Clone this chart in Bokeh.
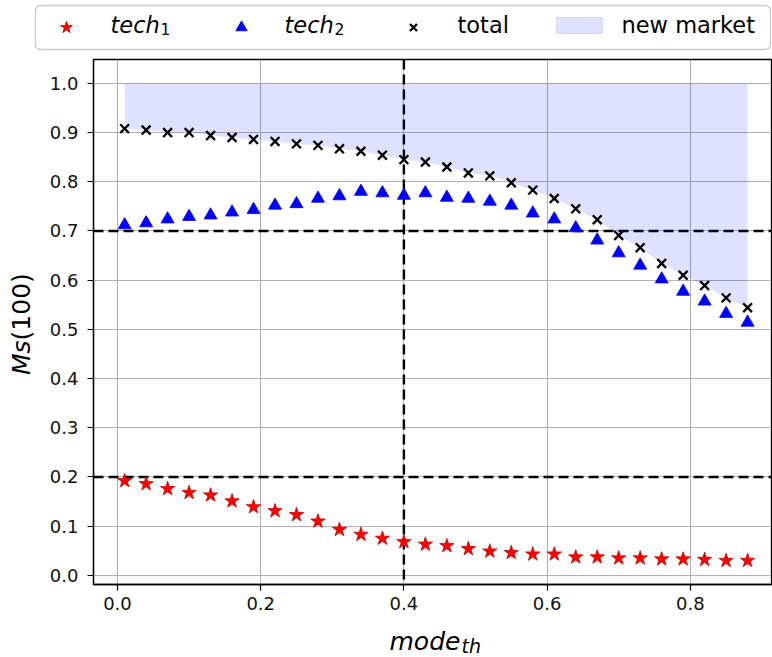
import math
from bokeh.plotting import figure
from bokeh.models import Range1d, FixedTicker, PrintfTickFormatter, Span
from bokeh.layouts import column, row
from bokeh.core.properties import value
from bokeh.embed import file_html
from bokeh.resources import INLINE

# ---- data ----
mode_th = [0.01, 0.04, 0.07, 0.10, 0.13, 0.16, 0.19, 0.22, 0.25, 0.28,
           0.31, 0.34, 0.37, 0.40, 0.43, 0.46, 0.49, 0.52, 0.55, 0.58,
           0.61, 0.64, 0.67, 0.70, 0.73, 0.76, 0.79, 0.82, 0.85, 0.88]
tech1 = [0.192, 0.186, 0.176, 0.168, 0.163, 0.151, 0.139, 0.131, 0.123, 0.110,
         0.093, 0.083, 0.075, 0.068, 0.063, 0.060, 0.054, 0.049, 0.046, 0.043,
         0.043, 0.037, 0.037, 0.035, 0.035, 0.033, 0.033, 0.032, 0.030, 0.030]
tech2 = [0.712, 0.716, 0.724, 0.729, 0.732, 0.738, 0.743, 0.752, 0.755, 0.766,
         0.771, 0.780, 0.777, 0.772, 0.777, 0.768, 0.766, 0.760, 0.752, 0.736,
         0.724, 0.706, 0.681, 0.655, 0.630, 0.602, 0.577, 0.557, 0.532, 0.514]
total = [0.908, 0.905, 0.900, 0.900, 0.894, 0.890, 0.886, 0.882, 0.877, 0.874,
         0.867, 0.862, 0.854, 0.845, 0.840, 0.830, 0.818, 0.812, 0.798, 0.783,
         0.766, 0.745, 0.723, 0.691, 0.666, 0.634, 0.610, 0.589, 0.564, 0.544]
market_top = 1.0
h_thresholds = [0.7, 0.2]
v_thresholds = [0.4]
x_ticks = [0.0, 0.2, 0.4, 0.6, 0.8]
y_ticks = [0.0, 0.1, 0.2, 0.3, 0.4, 0.5, 0.6, 0.7, 0.8, 0.9, 1.0]

FONT = "DejaVu Sans"


def strip(w, h, x0, x1, y0, y1):
    f = figure(width=w, height=h, x_range=Range1d(x0, x1), y_range=Range1d(y0, y1),
               x_axis_type=None, y_axis_type=None, output_backend="svg",
               toolbar_location=None, min_border=0)
    f.outline_line_color = None
    f.frame_align = False
    return f


# ---- main plot ----
p = figure(width=727, height=560,
           x_range=Range1d(-0.0335, 0.9134), y_range=Range1d(-0.0185, 1.0485),
           output_backend="svg", toolbar_location=None,
           min_border_left=48, min_border_right=1, min_border_top=2,
           min_border_bottom=33)
p.frame_align = False
p.outline_line_color = "black"
p.outline_line_width = 1.3

for ax, ticks in ((p.xaxis, x_ticks), (p.yaxis, y_ticks)):
    ax.ticker = FixedTicker(ticks=ticks)
    ax.formatter = PrintfTickFormatter(format="%.1f")
    ax.major_label_text_font = FONT
    ax.major_label_text_font_size = "18px"
    ax.major_label_text_color = "#111111"
    ax.axis_line_color = "black"
    ax.axis_line_width = 1.3
    ax.major_tick_line_color = "black"
    ax.major_tick_line_width = 1.2
    ax.major_tick_in = 0
    ax.major_tick_out = 6
    ax.minor_tick_line_color = None
p.xaxis.major_label_standoff = 6
p.yaxis.major_label_standoff = 9

p.grid.grid_line_color = "#b0b0b0"
p.grid.grid_line_width = 1.1
p.xgrid.ticker = FixedTicker(ticks=x_ticks)
p.ygrid.ticker = FixedTicker(ticks=y_ticks)

p.varea(x=mode_th, y1=total, y2=[market_top] * len(mode_th),
        fill_color="blue", fill_alpha=0.12)

for yv in h_thresholds:
    p.add_layout(Span(location=yv, dimension="width", line_color="black",
                      line_width=2.4, line_dash="10 5", level="underlay"))
for xv in v_thresholds:
    p.add_layout(Span(location=xv, dimension="height", line_color="black",
                      line_width=2.4, line_dash="10 5", level="underlay"))

p.scatter(x=mode_th, y=tech1, marker="star", size=15,
          fill_color="red", line_color="#cc0000", line_width=0.8)
p.scatter(x=mode_th, y=tech2, marker="triangle", size=13,
          fill_color="blue", line_color="blue", line_width=0.8)
p.scatter(x=mode_th, y=total, marker="x", size=12.5,
          line_color="black", line_width=2.3)

# ---- y-axis label strip (page coordinates) ----
Y = strip(45, 560, 0, 45, 617, 57)
Y.text(x=[21], y=[374.5], text=["Ms"], angle=math.pi / 2, text_font=value(FONT),
       text_font_style="italic", text_font_size="25px", text_align="left",
       text_baseline="middle", text_color="black")
Y.text(x=[21], y=[339.9], text=["(100)"], angle=math.pi / 2, text_font=value(FONT),
       text_font_size="25px", text_align="left",
       text_baseline="middle", text_color="black")

# ---- x-axis label strip (page coordinates) ----
X = strip(772, 40, 0, 772, 657, 617)
X.text(x=[389], y=[641], text=["mode"], text_font=value(FONT),
       text_font_style="italic", text_font_size="25px", text_align="left",
       text_baseline="alphabetic", text_color="black")
X.text(x=[461], y=[645], text=["th"], text_font=value(FONT),
       text_font_style="italic", text_font_size="19px", text_align="left",
       text_baseline="alphabetic", text_color="black")

# ---- legend strip (page coordinates) ----
L = strip(772, 57, 0, 772, 57, 0)
L.quad(left=[35], right=[770], top=[5], bottom=[49], fill_color="white",
       line_color="#cccccc", line_width=1.3, border_radius=5)
L.scatter(x=[66], y=[27], marker="star", size=12.5, fill_color="red",
          line_color="#cc0000", line_width=0.8)
L.scatter(x=[241], y=[27], marker="triangle", size=11.5, fill_color="blue",
          line_color="blue", line_width=0.8)
L.scatter(x=[413], y=[27], marker="x", size=10, line_color="black", line_width=2.3)
L.quad(left=[556], right=[602], top=[17], bottom=[33], fill_color="blue",
       fill_alpha=0.12, line_color="#d8d8f4", line_width=1)
L.text(x=[110, 284], y=[24, 24], text=["tech", "tech"], text_font=value(FONT),
       text_font_style="italic", text_font_size="22.5px",
       text_baseline="alphabetic", text_color="black")
L.text(x=[160, 334], y=[28.5, 28.5], text=["1", "2"], text_font=value(FONT),
       text_font_size="15.5px", text_baseline="alphabetic", text_color="black")
L.text(x=[457, 621], y=[24, 24], text=["total", "new market"], text_font=value(FONT),
       text_font_size="22.5px", text_baseline="alphabetic", text_color="black")

layout = column(L, row(Y, p, spacing=0), X, spacing=0)
open("out.html", "w").write(file_html(layout, INLINE))
